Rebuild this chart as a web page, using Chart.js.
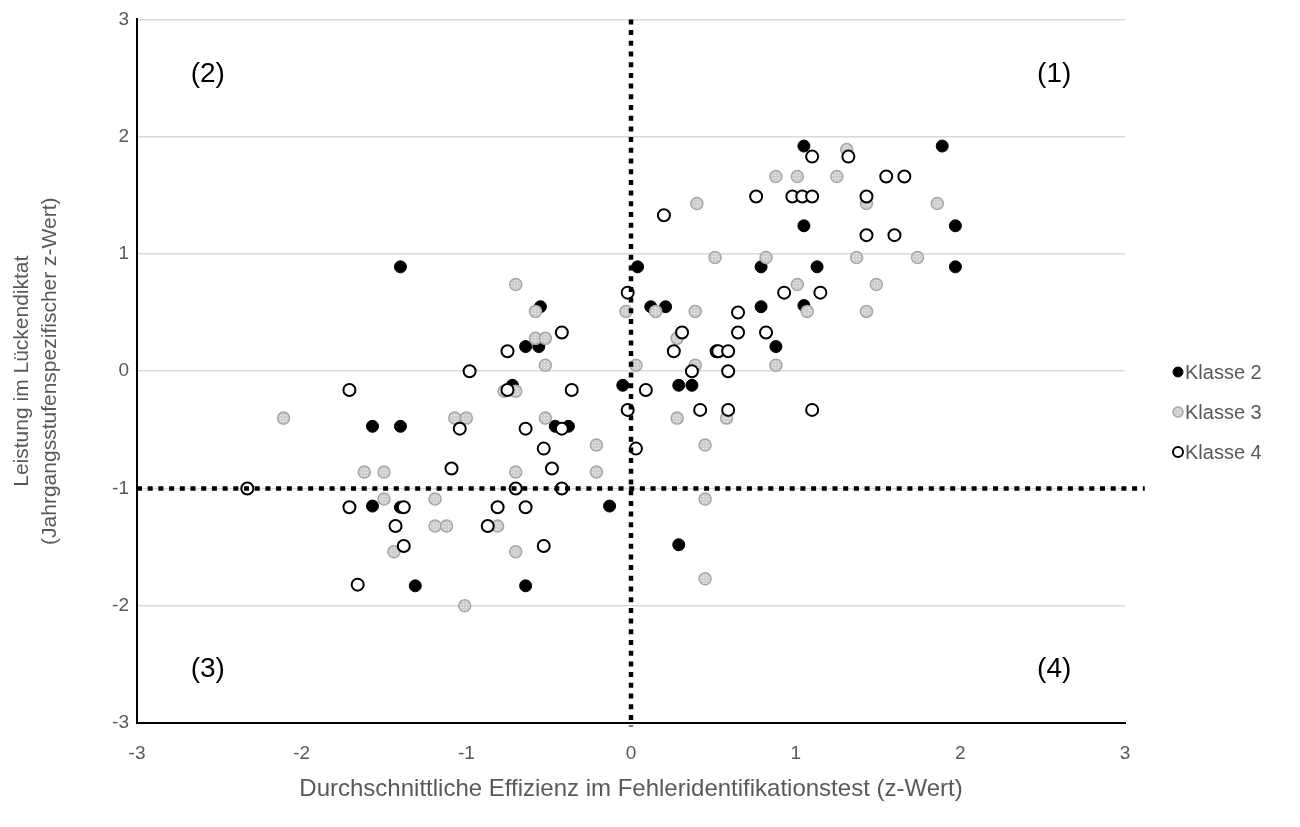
<!DOCTYPE html>
<html>
<head>
<meta charset="utf-8">
<script src="https://cdn.jsdelivr.net/npm/chart.js@4.4.0/dist/chart.umd.min.js"></script>
<style>
    html, body { margin: 0; padding: 0; background: #fff; }
    #wrap { width: 1300px; height: 827px; }
</style>
</head>
<body>
<div id="wrap"><canvas id="scatterChart" width="1300" height="827"></canvas></div>
<script>
// x = Effizienz (z-Wert), y = Lückendiktat (z-Wert)
const klasse2X = [-1.40, -1.57, -1.40, -1.57, -1.40, -1.31, 0.04, -0.55, 0.12, 0.21, -0.64, -0.56, -0.72, -0.05, 0.29, 0.37, -0.46, -0.38, -0.13, 0.29, -0.64, 1.05, 1.89, 1.05, 1.97, 0.79, 1.13, 1.97, 0.79, 1.05, 0.88];
const klasse2Y = [0.89, -0.47, -0.47, -1.15, -1.16, -1.83, 0.89, 0.55, 0.55, 0.55, 0.21, 0.21, -0.12, -0.12, -0.12, -0.12, -0.47, -0.47, -1.15, -1.48, -1.83, 1.92, 1.92, 1.24, 1.24, 0.89, 0.89, 0.89, 0.55, 0.56, 0.21];

const klasse3X = [-2.11, -1.07, -1.00, -1.62, -1.50, -1.50, -1.19, -1.19, -1.12, -1.44, -1.01, 0.51, -0.70, -0.58, -0.03, 0.15, 0.39, -0.58, -0.52, 0.28, -0.52, 0.03, 0.39, -0.77, -0.70, 0.28, -0.52, -0.21, 0.45, -0.70, -0.21, 0.45, -0.81, -0.70, 0.45, 1.31, 0.88, 1.01, 1.25, 1.43, 1.86, 0.40, 0.82, 1.37, 1.74, 1.01, 1.49, 1.07, 1.43, 0.88, 0.58];
const klasse3Y = [-0.40, -0.40, -0.40, -0.86, -0.86, -1.09, -1.09, -1.32, -1.32, -1.54, -2.00, 0.97, 0.74, 0.51, 0.51, 0.51, 0.51, 0.28, 0.28, 0.28, 0.05, 0.05, 0.05, -0.17, -0.17, -0.40, -0.40, -0.63, -0.63, -0.86, -0.86, -1.09, -1.32, -1.54, -1.77, 1.89, 1.66, 1.66, 1.66, 1.43, 1.43, 1.43, 0.97, 0.97, 0.97, 0.74, 0.74, 0.51, 0.51, 0.05, -0.40];

const klasse4X = [-1.71, -0.98, -1.04, -1.09, -2.33, -1.71, -1.38, -1.43, -1.38, -1.66, -0.02, -0.42, -0.75, 0.31, 0.26, 0.52, 0.37, -0.75, -0.36, 0.09, -0.02, 0.42, -0.64, -0.42, -0.53, 0.03, -0.48, -0.70, -0.42, -0.81, -0.64, -0.87, -0.53, 1.10, 1.32, 1.55, 1.66, 0.76, 0.98, 1.04, 1.10, 1.43, 1.43, 1.60, 0.20, 0.93, 1.15, 0.65, 0.65, 0.82, 0.53, 0.59, 0.59, 0.59, 1.10];
const klasse4Y = [-0.16, 0.00, -0.49, -0.83, -1.00, -1.16, -1.16, -1.32, -1.49, -1.82, 0.67, 0.33, 0.17, 0.33, 0.17, 0.17, 0.00, -0.16, -0.16, -0.16, -0.33, -0.33, -0.49, -0.49, -0.66, -0.66, -0.83, -1.00, -1.00, -1.16, -1.16, -1.32, -1.49, 1.83, 1.83, 1.66, 1.66, 1.49, 1.49, 1.49, 1.49, 1.49, 1.16, 1.16, 1.33, 0.67, 0.67, 0.50, 0.33, 0.33, 0.17, 0.17, 0.00, -0.33, -0.33];

const seriesNames = ['Klasse 2', 'Klasse 3', 'Klasse 4'];
const xTicks = [-3, -2, -1, 0, 1, 2, 3];
const yTicks = [-3, -2, -1, 0, 1, 2, 3];

// threshold lines (x = 0, y = -1)
const cutX = 0;
const cutY = -1;

const quadLabels = ['(1)', '(2)', '(3)', '(4)'];
const quadX = [2.57, -2.57, -2.57, 2.57];
const quadY = [2.53, 2.53, -2.54, -2.54];

const FONT = 'Arial, "Liberation Sans", sans-serif';
const TEXT_GREY = '#595959';

function toPoints(xs, ys) {
    return xs.map((x, i) => ({ x: x, y: ys[i] }));
}

function makeGreyPattern() {
    const c = document.createElement('canvas');
    c.width = 3;
    c.height = 3;
    const g = c.getContext('2d');
    g.fillStyle = '#cfcfcf';
    g.fillRect(0, 0, 3, 3);
    g.fillStyle = '#f0f0f0';
    g.fillRect(1, 1, 1, 1);
    return g.createPattern(c, 'repeat');
}

const greyPattern = makeGreyPattern();

const markerStyles = [
    { fill: '#000000', stroke: '#000000', width: 1 },
    { fill: greyPattern, stroke: '#a6a6a6', width: 1.5 },
    { fill: '#ffffff', stroke: '#000000', width: 2 }
];

// quadrant numbers + legend on the right
const extrasPlugin = {
    id: 'extras',
    afterDatasetsDraw(chart) {
        const ctx = chart.ctx;
        const xs = chart.scales.x;
        const ys = chart.scales.y;
        ctx.save();
        ctx.font = '28px ' + FONT;
        ctx.fillStyle = '#000';
        ctx.textAlign = 'center';
        ctx.textBaseline = 'middle';
        quadLabels.forEach((t, i) => {
            ctx.fillText(t, xs.getPixelForValue(quadX[i]), ys.getPixelForValue(quadY[i]));
        });

        ctx.font = '20px ' + FONT;
        ctx.textAlign = 'left';
        seriesNames.forEach((name, i) => {
            const y = 372 + i * 40;
            const st = markerStyles[i];
            ctx.beginPath();
            ctx.arc(1178, y, 5, 0, Math.PI * 2);
            ctx.fillStyle = st.fill;
            ctx.fill();
            ctx.lineWidth = st.width;
            ctx.strokeStyle = st.stroke;
            ctx.stroke();
            ctx.fillStyle = TEXT_GREY;
            ctx.fillText(name, 1185, y + 1);
        });
        ctx.restore();
    }
};

function initChart() {
    const ctx = document.getElementById('scatterChart').getContext('2d');
    const pointData = [toPoints(klasse2X, klasse2Y), toPoints(klasse3X, klasse3Y), toPoints(klasse4X, klasse4Y)];

    const datasets = seriesNames.map((name, i) => ({
        label: name,
        data: pointData[i],
        pointRadius: 6,
        pointBackgroundColor: markerStyles[i].fill,
        pointBorderColor: markerStyles[i].stroke,
        pointBorderWidth: markerStyles[i].width,
        showLine: false,
        order: 3 - i
    }));

    datasets.push({
        label: 'vline',
        data: [{ x: cutX, y: 3 }, { x: cutX, y: -3.03 }],
        showLine: true,
        borderColor: '#000',
        borderWidth: 4.5,
        borderDash: [5, 5.7],
        pointRadius: 0,
        clip: false,
        order: 0
    });
    datasets.push({
        label: 'hline',
        data: [{ x: -3, y: cutY }, { x: 3.12, y: cutY }],
        showLine: true,
        borderColor: '#000',
        borderWidth: 4.5,
        borderDash: [5, 5.7],
        pointRadius: 0,
        clip: false,
        order: 0
    });

    return new Chart(ctx, {
        type: 'scatter',
        data: { datasets: datasets },
        plugins: [extrasPlugin],
        options: {
            responsive: false,
            animation: false,
            events: [],
            layout: {
                padding: { left: 0, right: 175, top: 19, bottom: 0 }
            },
            plugins: {
                legend: { display: false },
                tooltip: { enabled: false }
            },
            scales: {
                x: {
                    type: 'linear',
                    min: -3,
                    max: 3,
                    afterBuildTicks: function(scale) {
                        scale.ticks = xTicks.map(v => ({ value: v }));
                    },
                    afterFit: function(scale) {
                        scale.height = 104;
                    },
                    grid: { display: false, drawTicks: false },
                    border: { display: true, color: '#000', width: 2 },
                    ticks: {
                        color: TEXT_GREY,
                        padding: 19,
                        font: { size: 19, family: FONT },
                        callback: function(value) { return String(value); }
                    },
                    title: {
                        display: true,
                        text: 'Durchschnittliche Effizienz im Fehleridentifikationstest (z-Wert)',
                        color: TEXT_GREY,
                        font: { size: 24, family: FONT },
                        padding: { top: 0, bottom: 23 }
                    }
                },
                y: {
                    type: 'linear',
                    min: -3,
                    max: 3,
                    afterBuildTicks: function(scale) {
                        scale.ticks = yTicks.map(v => ({ value: v }));
                    },
                    afterFit: function(scale) {
                        scale.width = 137;
                    },
                    grid: { color: '#d9d9d9', lineWidth: 1.5, drawTicks: false },
                    border: { display: true, color: '#000', width: 2 },
                    ticks: {
                        color: TEXT_GREY,
                        padding: 8,
                        font: { size: 19, family: FONT },
                        callback: function(value) { return String(value); }
                    },
                    title: {
                        display: true,
                        text: ['Leistung im Lückendiktat', '(Jahrgangsstufenspezifischer z-Wert)'],
                        color: TEXT_GREY,
                        font: { size: 21, family: FONT, lineHeight: 1.3 },
                        padding: { top: 9, bottom: 0 }
                    }
                }
            }
        }
    });
}

initChart();
</script>
</body>
</html>
